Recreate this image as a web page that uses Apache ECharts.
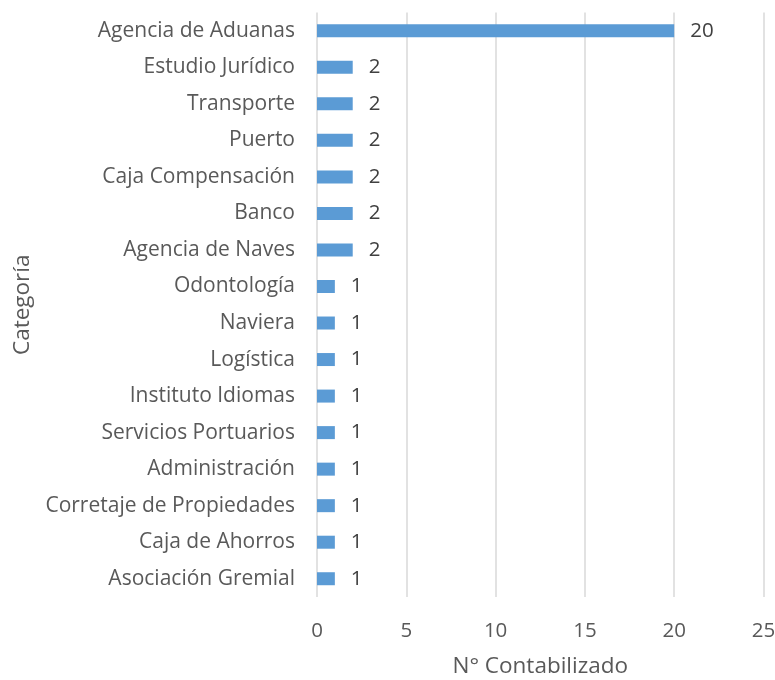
<!DOCTYPE html>
<html><head><meta charset="utf-8">
<script src="https://cdn.jsdelivr.net/npm/echarts@6/dist/echarts.min.js"></script>
<style>html,body{margin:0;padding:0;background:#fff}#c{width:775px;height:680px}</style>
</head><body><div id="c"></div>
<script>
const categories = ["Agencia de Aduanas","Estudio Jurídico","Transporte","Puerto","Caja Compensación","Banco","Agencia de Naves","Odontología","Naviera","Logística","Instituto Idiomas","Servicios Portuarios","Administración","Corretaje de Propiedades","Caja de Ahorros","Asociación Gremial"];
const values = [20,2,2,2,2,2,2,1,1,1,1,1,1,1,1,1];
const xTicks = [0,5,10,15,20,25];

const font = "'Open Sans', sans-serif";
const chart = echarts.init(document.getElementById('c'));
chart.setOption({
  animation:false,
  grid:{left:317,right:11.5,top:12.5,bottom:83,containLabel:false,outerBoundsMode:'none'},
  xAxis:{type:'value',min:xTicks[0],max:xTicks[xTicks.length-1],interval:5,
    name:'N° Contabilizado',nameLocation:'middle',nameGap:58,
    nameTextStyle:{fontFamily:font,fontSize:22.5,color:'#595959'},
    axisLine:{show:false},axisTick:{show:false},
    axisLabel:{fontFamily:font,fontSize:20.5,color:'#595959',margin:24},
    splitLine:{lineStyle:{color:'#d9d9d9',width:1.5}}},
  yAxis:{type:'category',data:categories.slice().reverse(),inverse:false,
    name:'Categoría',nameLocation:'middle',nameGap:283,nameRotate:90,
    nameTextStyle:{fontFamily:font,fontSize:22.5,color:'#595959'},
    axisLine:{show:false},axisTick:{show:false},
    axisLabel:{fontFamily:font,fontSize:21,color:'#595959',margin:22}},
  series:[{type:'bar',data:values.slice().reverse(),barWidth:13,
    itemStyle:{color:'#5B9BD5'},
    label:{show:true,position:'right',distance:16,fontFamily:font,fontSize:20.5,color:'#404040'}}]
});
</script></body></html>
